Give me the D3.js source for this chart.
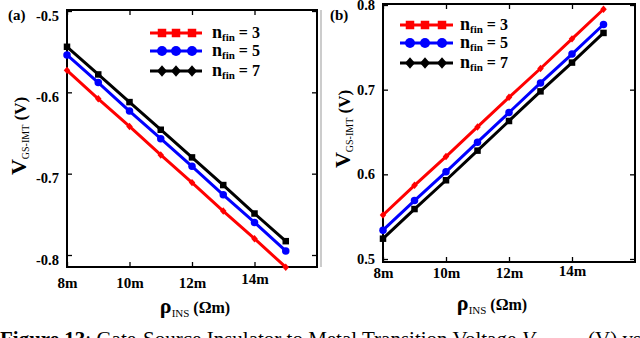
<!DOCTYPE html>
<html><head><meta charset="utf-8">
<script src="https://cdn.jsdelivr.net/npm/d3@7/dist/d3.min.js"></script>
<style>
html,body{margin:0;padding:0;background:#fff;overflow:hidden;}
svg{display:block;}
</style></head>
<body>
<svg id="chart" width="640" height="338"></svg>
<script>
// ---- data ----
const rho = [8, 9, 10, 11, 12, 13, 14, 15];           // ρ_INS (mΩm)
const xTicks = [8, 10, 12, 14];
const xTickLabels = ["8m", "10m", "12m", "14m"];
const finLabels = ["3", "5", "7"];
const seriesColors = ["#ff0000", "#0000ff", "#000000"];

// panel (a)
const aFin3 = [-0.573, -0.608, -0.642, -0.677, -0.711, -0.746, -0.780, -0.815];
const aFin5 = [-0.554, -0.588, -0.623, -0.657, -0.691, -0.726, -0.760, -0.795];
const aFin7 = [-0.544, -0.578, -0.612, -0.646, -0.680, -0.714, -0.749, -0.783];
const aYTicks = [-0.5, -0.6, -0.7, -0.8];
const aYTickLabels = ["-0.5", "-0.6", "-0.7", "-0.8"];

// panel (b)
const bFin3 = [0.552, 0.587, 0.621, 0.656, 0.691, 0.725, 0.760, 0.795];
const bFin5 = [0.534, 0.569, 0.603, 0.638, 0.673, 0.708, 0.742, 0.777];
const bFin7 = [0.524, 0.559, 0.593, 0.628, 0.663, 0.698, 0.732, 0.767];
const bYTicks = [0.5, 0.6, 0.7, 0.8];
const bYTickLabels = ["0.5", "0.6", "0.7", "0.8"];

const SERIF = '"Liberation Serif", "Times New Roman", serif';
const svg = d3.select("#chart");

// light gray separator left of panel (b)
svg.append("line").attr("x1", 321).attr("x2", 321).attr("y1", 10).attr("y2", 267)
  .attr("stroke", "#bbb").attr("stroke-width", 1.5);

function markerPath(shape, size, cx, cy) {
  const s = size / 2;
  if (shape === "square") return `M${cx - s},${cy - s}h${size}v${size}h${-size}Z`;
  if (shape === "diamond") return `M${cx},${cy - s * 1.15}L${cx + s},${cy}L${cx},${cy + s * 1.15}L${cx - s},${cy}Z`;
  return null;
}

function drawPanel(cfg) {
  const g = svg.append("g");
  const x = d3.scaleLinear().domain([8, 16]).range([cfg.left, cfg.right]);
  const y = d3.scaleLinear().domain(cfg.yDomain).range(cfg.yRange);

  const fmtX = d => xTickLabels[xTicks.indexOf(d)];
  const fmtY = d => cfg.yTickLabels[cfg.yTicks.indexOf(d)];

  const ax = g.append("g").attr("transform", `translate(0,${cfg.bottom})`)
    .call(d3.axisBottom(x).tickValues(xTicks).tickFormat(fmtX).tickSize(-5).tickSizeOuter(0).tickPadding(cfg.xPad));
  const ay = g.append("g").attr("transform", `translate(${cfg.left},0)`)
    .call(d3.axisLeft(y).tickValues(cfg.yTicks).tickFormat(fmtY).tickSize(-5).tickSizeOuter(0).tickPadding(8));
  const at = g.append("g").attr("transform", `translate(0,${cfg.top})`)
    .call(d3.axisTop(x).tickValues(xTicks).tickFormat("").tickSize(-5).tickSizeOuter(0));
  const ar = g.append("g").attr("transform", `translate(${cfg.right},0)`)
    .call(d3.axisRight(y).tickValues(cfg.yTicks).tickFormat("").tickSize(-5).tickSizeOuter(0));
  [ax, ay, at, ar].forEach(a => {
    a.attr("font-family", null);
    a.select(".domain").remove();
    a.selectAll(".tick line").attr("stroke", "#000").attr("stroke-width", 1.3);
  });
  ax.selectAll(".tick text").style("font-size", "15px").style("font-weight", "bold").attr("fill", "#000")
    .attr("dy", (d) => (d === 14 ? cfg.x14dy : "0.71em"));
  ay.selectAll(".tick text").style("font-size", "14.5px").style("font-weight", "bold").attr("fill", "#000")
    .attr("dy", cfg.yLabelDy);

  // box
  g.append("rect").attr("x", cfg.left).attr("y", cfg.top)
    .attr("width", cfg.right - cfg.left).attr("height", cfg.bottom - cfg.top)
    .attr("fill", "none").attr("stroke", "#000").attr("stroke-width", 2);

  // series
  const line = d3.line().x((d, i) => x(rho[i])).y(d => y(d));
  const shapesPlot = ["diamond", "circle", "square"];
  const sizesPlot = [6.5, 7.5, 6.5];
  cfg.series.forEach((vals, si) => {
    g.append("path").datum(vals).attr("d", line)
      .attr("fill", "none").attr("stroke", seriesColors[si]).attr("stroke-width", 3);
    vals.forEach((v, i) => {
      const cx = x(rho[i]), cy = y(v);
      if (shapesPlot[si] === "circle") {
        g.append("circle").attr("cx", cx).attr("cy", cy).attr("r", sizesPlot[si] / 2).attr("fill", seriesColors[si]);
      } else {
        g.append("path").attr("d", markerPath(shapesPlot[si], sizesPlot[si], cx, cy)).attr("fill", seriesColors[si]);
      }
    });
  });

  // legend
  const shapesLeg = ["square", "circle", "diamond"];
  const sizesLeg = [8.5, 10, 10];
  finLabels.forEach((lab, si) => {
    const ly = cfg.legY[si];
    g.append("line").attr("x1", cfg.legX0).attr("x2", cfg.legX1).attr("y1", ly).attr("y2", ly)
      .attr("stroke", seriesColors[si]).attr("stroke-width", 3);
    cfg.legMarks.forEach(mx => {
      if (shapesLeg[si] === "circle") {
        g.append("circle").attr("cx", mx).attr("cy", ly).attr("r", sizesLeg[si] / 2).attr("fill", seriesColors[si]);
      } else {
        g.append("path").attr("d", markerPath(shapesLeg[si], sizesLeg[si], mx, ly)).attr("fill", seriesColors[si]);
      }
    });
    const t = g.append("text").attr("x", cfg.legTextX).attr("y", ly + 5)
      .style("font-weight", "bold").attr("fill", "#000");
    t.append("tspan").style("font-size", "18px").text("n");
    t.append("tspan").style("font-size", "11px").attr("dy", 3).text("fin");
    t.append("tspan").style("font-size", "16px").attr("dy", -3).text(" = " + lab);
  });

  // panel label
  g.append("text").attr("x", cfg.panelX).attr("y", 20).style("font-size", "15px").style("font-weight", "bold")
    .text(cfg.panelLabel);

  // x title
  const xt = g.append("text").attr("x", cfg.xTitleX).attr("y", cfg.xTitleY).attr("text-anchor", "middle")
    .attr("fill", "#000");
  xt.append("tspan").style("font-size", "22px").style("font-weight", "bold").text("ρ");
  xt.append("tspan").style("font-size", "11px").attr("dy", 4).text("INS");
  xt.append("tspan").style("font-size", "16px").style("font-weight", "bold").attr("dy", -4).text(" (Ωm)");

  // y title
  const yt = g.append("text").attr("transform", `translate(${cfg.yTitleX},${cfg.yTitleY}) rotate(-90)`)
    .attr("text-anchor", "middle").attr("fill", "#000");
  yt.append("tspan").style("font-size", "22px").style("font-weight", "bold").text("V");
  yt.append("tspan").style("font-size", "10px").attr("dy", 3).text("GS-IMT");
  yt.append("tspan").style("font-size", "17px").style("font-weight", "bold").attr("dy", -3).text(" (V)");
}

drawPanel({
  left: 67, right: 317, top: 10, bottom: 267,
  yDomain: [-0.5, -0.8], yRange: [11, 255],
  yTicks: aYTicks, yTickLabels: aYTickLabels, yLabelDy: "0.62em",
  xPad: 10, x14dy: "0.45em",
  series: [aFin3, aFin5, aFin7],
  legY: [33, 51, 71], legX0: 150, legX1: 202, legMarks: [162, 176, 192], legTextX: 212,
  panelLabel: "(a)", panelX: 8,
  xTitleX: 195, xTitleY: 313,
  yTitleX: 26, yTitleY: 136
});

drawPanel({
  left: 383, right: 635, top: 4, bottom: 262,
  yDomain: [0.5, 0.8], yRange: [259, 5],
  yTicks: bYTicks, yTickLabels: bYTickLabels, yLabelDy: "0.32em",
  xPad: 5, x14dy: "0.6em",
  series: [bFin3, bFin5, bFin7],
  legY: [25, 43, 63], legX0: 400, legX1: 453, legMarks: [410, 425, 442], legTextX: 460,
  panelLabel: "(b)", panelX: 330,
  xTitleX: 492, xTitleY: 310,
  yTitleX: 350, yTitleY: 129
});

// caption (partially cut at the bottom edge)
const cap = svg.append("text").attr("x", 0).attr("y", 346).style("font-size", "21px").attr("fill", "#000");
cap.append("tspan").style("font-weight", "bold").text("Figure 13");
cap.append("tspan").text(": Gate-Source Insulator to Metal Transition Voltage ");
cap.append("tspan").attr("x", 522).style("font-style", "italic").text("V");
cap.append("tspan").style("font-style", "italic").style("font-size", "13px").attr("dy", 4).text("GS-IMT");
cap.append("tspan").attr("x", 588).attr("dy", -4).text("(V) vs");

svg.selectAll("text").style("font-family", SERIF);
</script>
</body></html>
